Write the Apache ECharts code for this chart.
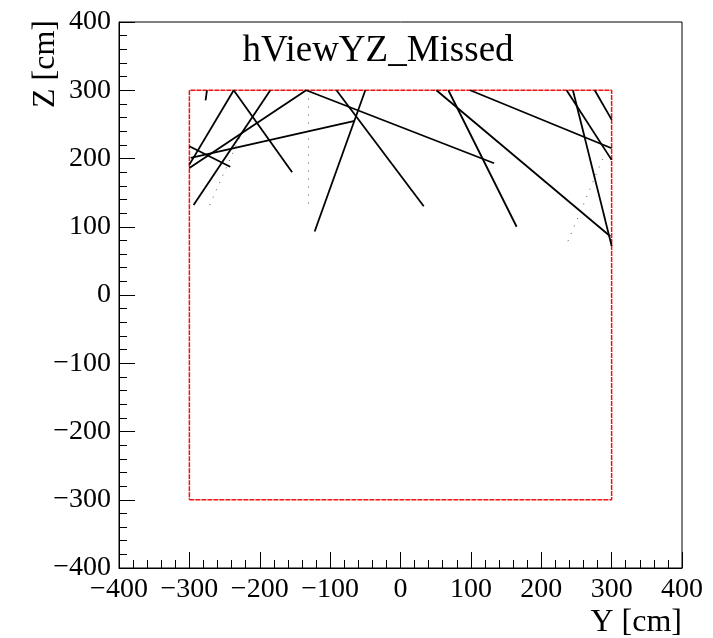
<!DOCTYPE html>
<html>
<head>
<meta charset="utf-8">
<title>hViewYZ_Missed</title>
<script src="https://cdn.jsdelivr.net/npm/echarts@6/dist/echarts.min.js"></script>
<style>
  html, body { margin: 0; padding: 0; background: #fff; }
  #chart { width: 713px; height: 638px; }
</style>
</head>
<body>
<div id="chart"></div>
<script>
// Track segments projected on the Y-Z plane: start and end points [Y, Z] in cm
var trackStart = [
  [-275, 300], [-237, 300], [-237, 300], [-185, 300], [-134, 300],
  [-134, 300], [-298, 201], [-300, 218], [-91, 300], [-50, 300],
  [51, 300], [68, 300], [99, 300], [236, 300], [245, 300], [276, 300]
];
var trackEnd = [
  [-277, 285], [-300, 191], [-154, 180], [-294, 132], [-300, 186],
  [133, 193], [-65, 255], [-242, 188], [33, 130], [-122, 93],
  [298, 86], [165, 100], [300, 215], [300, 198], [300, 72], [300, 257]
];

// Sparse hit trails (faint dotted)
var faintStart = [[-271, 132], [-131, 288], [287, 199]];
var faintEnd = [[-226, 237], [-131, 130], [236, 74]];

// Detector boundary outline in the Y-Z view
var boundary = [[-300, -300], [300, -300], [300, 300], [-300, 300], [-300, -300]];

// Axis settings
var axisMin = -400;
var axisMax = 400;
var axisStep = 100;

var FONT = 'Liberation Serif';

function fmt(v) {
  return v < 0 ? '\u2212' + Math.abs(v) : String(v);
}

function segs(starts, ends) {
  return starts.map(function (s, i) { return { coords: [s, ends[i]] }; });
}

function axisCfg() {
  return {
    type: 'value',
    min: axisMin,
    max: axisMax,
    interval: axisStep,
    splitLine: { show: false },
    axisLine: { show: true, onZero: false, lineStyle: { color: '#000', width: 1 } },
    axisTick: { show: true, inside: true, length: 16, lineStyle: { color: '#000', width: 1 } },
    minorTick: { show: true, splitNumber: 5, length: 8, lineStyle: { color: '#000', width: 1 } },
    axisLabel: {
      formatter: fmt,
      fontFamily: FONT,
      fontSize: 28,
      color: '#000',
      showMinLabel: true,
      showMaxLabel: true
    }
  };
}

var xAxis = axisCfg();
xAxis.axisLabel.margin = 8;
var yAxis = axisCfg();
yAxis.axisLabel.margin = 8;

var chart = echarts.init(document.getElementById('chart'), null, { renderer: 'canvas' });
chart.setOption({
  animation: false,
  backgroundColor: '#fff',
  grid: {
    left: 119, right: 31, top: 22, bottom: 70,
    show: true, borderColor: '#000', borderWidth: 1, backgroundColor: 'transparent'
  },
  xAxis: xAxis,
  yAxis: yAxis,
  graphic: [
    {
      type: 'text', x: 378, y: 33,
      style: { text: 'hViewYZ_Missed', font: '37px "' + FONT + '"', fill: '#000',
               align: 'center', verticalAlign: 'top' }
    },
    {
      type: 'text', x: 682, y: 607,
      style: { text: 'Y [cm]', font: '32px "' + FONT + '"', fill: '#000',
               align: 'right', verticalAlign: 'top' }
    },
    {
      type: 'text', x: 30, y: 20, rotation: Math.PI / 2,
      style: { text: 'Z [cm]', font: '32px "' + FONT + '"', fill: '#000',
               align: 'right', verticalAlign: 'top' }
    }
  ],
  series: [
    {
      name: 'boundary',
      type: 'line',
      data: boundary,
      symbol: 'none',
      lineStyle: { color: '#ee1111', width: 1.5, type: [5, 1] },
      silent: true,
      z: 3
    },
    {
      name: 'faint',
      type: 'lines',
      coordinateSystem: 'cartesian2d',
      data: segs(faintStart, faintEnd),
      lineStyle: { color: '#555', width: 1, type: [1, 7], opacity: 1 },
      silent: true,
      z: 4
    },
    {
      name: 'tracks',
      type: 'lines',
      coordinateSystem: 'cartesian2d',
      data: segs(trackStart, trackEnd),
      lineStyle: { color: '#000', width: 1.8, opacity: 1 },
      silent: true,
      z: 5
    }
  ]
});
</script>
</body>
</html>
